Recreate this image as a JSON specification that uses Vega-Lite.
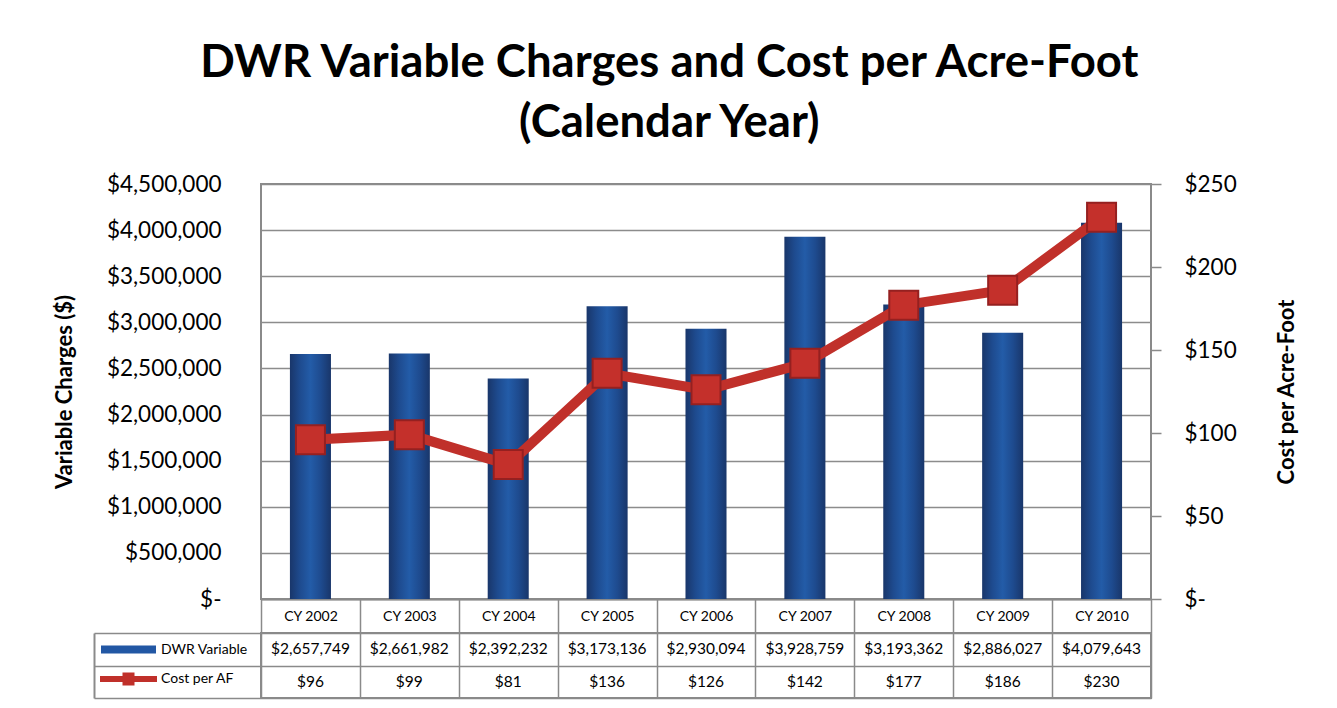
{
  "$schema": "https://vega.github.io/schema/vega-lite/v6.json",
  "padding": {"left": 52, "top": 40, "right": 5, "bottom": 5},
  "background": "white",
  "config": {
    "font": "Lato",
    "view": {"stroke": "#8a8a8a", "strokeWidth": 2},
    "axis": {"labelColor": "#000000", "titleColor": "#000000", "labelFont": "Lato", "titleFont": "Lato"}
  },
  "title": {
    "text": ["DWR Variable Charges and Cost per Acre-Foot", "(Calendar Year)"],
    "fontSize": 45.5,
    "fontWeight": "bold",
    "lineHeight": 60,
    "color": "#000000",
    "anchor": "middle",
    "frame": "bounds",
    "offset": 26,
    "dx": -6
  },
  "bounds": "flush",
  "spacing": 34,
  "datasets": {
    "main": [
      {"year": "CY 2002", "dwr": 2657749, "cost": 96},
      {"year": "CY 2003", "dwr": 2661982, "cost": 99},
      {"year": "CY 2004", "dwr": 2392232, "cost": 81},
      {"year": "CY 2005", "dwr": 3173136, "cost": 136},
      {"year": "CY 2006", "dwr": 2930094, "cost": 126},
      {"year": "CY 2007", "dwr": 3928759, "cost": 142},
      {"year": "CY 2008", "dwr": 3193362, "cost": 177},
      {"year": "CY 2009", "dwr": 2886027, "cost": 186},
      {"year": "CY 2010", "dwr": 4079643, "cost": 230}
    ],
    "series": [{"series": "DWR Variable"}, {"series": "Cost per AF"}]
  },
  "vconcat": [
    {
      "width": 890,
      "height": 415,
      "data": {"name": "main"},
      "encoding": {
        "x": {
          "field": "year",
          "type": "nominal",
          "sort": null,
          "scale": {"paddingInner": 0, "paddingOuter": 0},
          "axis": {
            "title": null,
            "labelAngle": 0,
            "labelFontSize": 14,
            "labelBaseline": "middle",
            "labelPadding": -17,
            "tickBand": "extent",
            "tickSize": 34,
            "tickColor": "#8a8a8a",
            "tickWidth": 1.5,
            "domainColor": "#8a8a8a",
            "domainWidth": 2,
            "grid": false
          }
        }
      },
      "layer": [
        {
          "mark": {
            "type": "bar",
            "width": {"band": 0.415},
            "fill": {
              "gradient": "linear",
              "x1": 0, "y1": 0, "x2": 1, "y2": 0,
              "stops": [
                {"offset": 0, "color": "#19366a"},
                {"offset": 0.25, "color": "#1e4b8f"},
                {"offset": 0.5, "color": "#235ca8"},
                {"offset": 0.75, "color": "#1e4b8f"},
                {"offset": 1, "color": "#19366a"}
              ]
            }
          },
          "encoding": {
            "y": {
              "field": "dwr",
              "type": "quantitative",
              "scale": {"domain": [0, 4500000], "nice": false},
              "axis": {
                "title": "Variable Charges ($)",
                "titleFontSize": 22,
                "titleFontWeight": "bold",
                "titlePadding": 30,
                "labelFontSize": 22.5,
                "labelPadding": 40,
                "ticks": false,
                "domain": false,
                "grid": true,
                "gridColor": "#8c8c8c",
                "gridWidth": 1.5,
                "values": [0, 500000, 1000000, 1500000, 2000000, 2500000, 3000000, 3500000, 4000000, 4500000],
                "labelExpr": "datum.value === 0 ? '$-\u00a0\u00a0\u00a0' : format(datum.value, '$,')"
              }
            }
          }
        },
        {
          "mark": {"type": "line", "color": "#C0302A", "strokeWidth": 10},
          "encoding": {
            "y": {
              "field": "cost",
              "type": "quantitative",
              "scale": {"domain": [0, 250], "nice": false},
              "axis": {
                "orient": "right",
                "title": "Cost per Acre-Foot",
                "titleFontSize": 22,
                "titleFontWeight": "bold",
                "titleAngle": 270,
                "titlePadding": 62,
                "labelFontSize": 22.5,
                "labelPadding": 23,
                "ticks": true,
                "tickSize": 10,
                "tickColor": "#8a8a8a",
                "tickWidth": 1.5,
                "domain": false,
                "grid": false,
                "values": [0, 50, 100, 150, 200, 250],
                "labelExpr": "datum.value === 0 ? '$-' : '$' + datum.value"
              }
            }
          }
        },
        {
          "mark": {"type": "point", "shape": "square", "size": 841, "filled": true, "fill": "#C4302B", "stroke": "#952020", "strokeWidth": 2, "opacity": 1},
          "encoding": {
            "y": {"field": "cost", "type": "quantitative", "scale": {"domain": [0, 250], "nice": false}, "axis": null}
          }
        },
        {
          "data": {"name": "series"},
          "mark": {"type": "point", "filled": true, "opacity": 0},
          "encoding": {
            "x": {"value": 0},
            "y": {"value": 0},
            "color": {
              "field": "series",
              "type": "nominal",
              "sort": null,
              "scale": {"domain": ["DWR Variable", "Cost per AF"], "range": ["#2257a4", "#C0302A"]},
              "legend": {
                "orient": "none",
                "legendX": -142.5,
                "legendY": 455.5,
                "title": null,
                "padding": 0,
                "symbolSize": 400,
                "symbolOpacity": 1,
                "symbolStrokeWidth": 0,
                "labelFontSize": 14,
                "labelColor": "#000000",
                "labelOffset": 22.5,
                "rowPadding": 12.5,
                "encode": {"symbols": {"update": {"opacity": {"value": 1}}}}
              }
            },
            "shape": {
              "field": "series",
              "type": "nominal",
              "sort": null,
              "scale": {
                "domain": ["DWR Variable", "Cost per AF"],
                "range": [
                  "M-2.75,-0.4H2.75V0.4H-2.75Z",
                  "M-2.85,-0.3H-0.6V-0.65H0.6V-0.3H2.85V0.3H0.6V0.65H-0.6V0.3H-2.85Z"
                ]
              },
              "legend": {
                "orient": "none",
                "legendX": -142.5,
                "legendY": 455.5,
                "title": null,
                "padding": 0,
                "symbolSize": 400,
                "symbolOpacity": 1,
                "symbolStrokeWidth": 0,
                "labelFontSize": 14,
                "labelColor": "#000000",
                "labelOffset": 22.5,
                "rowPadding": 12.5,
                "encode": {"symbols": {"update": {"opacity": {"value": 1}}}}
              }
            }
          }
        }
      ],
      "resolve": {"scale": {"y": "independent"}}
    },
    {
      "width": 890,
      "height": 65,
      "data": {"name": "main"},
      "encoding": {
        "x": {
          "field": "year",
          "type": "nominal",
          "sort": null,
          "scale": {"paddingInner": 0, "paddingOuter": 0},
          "axis": {
            "title": null,
            "labels": false,
            "ticks": false,
            "domain": false,
            "grid": true,
            "tickBand": "extent",
            "gridColor": "#8a8a8a",
            "gridWidth": 1.5
          }
        }
      },
      "layer": [
        {
          "mark": {"type": "text", "fontSize": 15.5, "color": "#000000"},
          "encoding": {
            "y": {
              "datum": "DWR Variable",
              "type": "nominal",
              "scale": {"domain": ["DWR Variable", "Cost per AF"], "paddingInner": 0, "paddingOuter": 0},
              "axis": {
                "title": null,
                "labels": false,
                "grid": true,
                "tickBand": "extent",
                "gridColor": "#8a8a8a",
                "gridWidth": 1.5,
                "offset": 167,
                "domain": true,
                "domainColor": "#8a8a8a",
                "domainWidth": 2,
                "ticks": true,
                "tickSize": -167,
                "tickColor": "#8a8a8a",
                "tickWidth": 1.5
              }
            },
            "text": {"field": "dwr", "type": "quantitative", "format": "$,"}
          }
        },
        {
          "mark": {"type": "text", "fontSize": 15.5, "color": "#000000"},
          "encoding": {
            "y": {"datum": "Cost per AF", "type": "nominal"},
            "text": {"field": "cost", "type": "quantitative", "format": "$,"}
          }
        }
      ]
    }
  ]
}
